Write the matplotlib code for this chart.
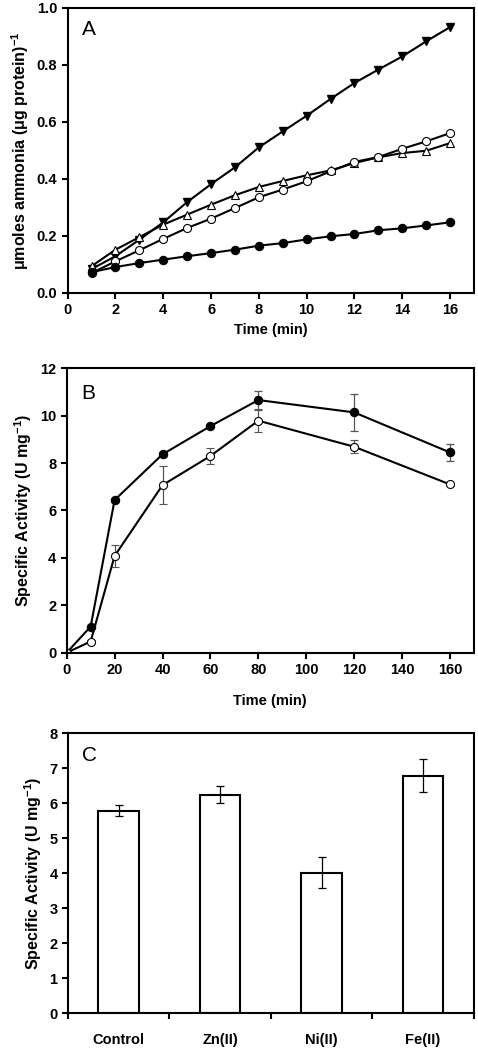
import numpy as np
import matplotlib
matplotlib.use("Agg")
import matplotlib.pyplot as plt

plt.rcParams['font.family'] = ['Liberation Sans', 'DejaVu Sans']
plt.rcParams['font.weight'] = 'bold'
plt.rcParams['mathtext.fontset'] = 'custom'
plt.rcParams['mathtext.rm'] = 'Liberation Sans:bold'
plt.rcParams['mathtext.default'] = 'rm'

# Panel A data
time_a = list(range(1, 17))
filled_tri = [0.084, 0.129, 0.187, 0.248, 0.319, 0.382, 0.441, 0.511, 0.567, 0.622,
              0.681, 0.737, 0.784, 0.830, 0.883, 0.933]
open_tri = [0.094, 0.152, 0.196, 0.240, 0.275, 0.310, 0.343, 0.372, 0.393, 0.413,
            0.430, 0.456, 0.476, 0.491, 0.499, 0.526]
open_circ = [0.070, 0.111, 0.150, 0.190, 0.228, 0.261, 0.298, 0.336, 0.363, 0.392,
             0.427, 0.460, 0.477, 0.506, 0.532, 0.561]
filled_circ = [0.073, 0.091, 0.105, 0.117, 0.129, 0.140, 0.152, 0.166, 0.175, 0.188,
               0.199, 0.207, 0.220, 0.227, 0.237, 0.248]

# Panel B data
time_b = [0, 10, 20, 40, 60, 80, 120, 160]
act_filled = [0, 1.10, 6.44, 8.37, 9.56, 10.66, 10.14, 8.45]
err_filled = [0, 0.05, 0.08, 0.10, 0.10, 0.40, 0.78, 0.35]
act_open = [0, 0.47, 4.08, 7.07, 8.30, 9.79, 8.69, 7.10]
err_open = [0, 0.05, 0.47, 0.80, 0.32, 0.48, 0.28, 0.05]

# Panel C data
metals = ['Control', 'Zn(II)', 'Ni(II)', 'Fe(II)']
act_metal = [5.79, 6.24, 4.02, 6.79]
err_metal = [0.15, 0.24, 0.45, 0.48]

fig = plt.figure(figsize=(4.78, 10.52), dpi=100)
axA = fig.add_axes([0.1416, 0.7215, 0.850, 0.2709])
axB = fig.add_axes([0.1395, 0.3796, 0.852, 0.2703])
axC = fig.add_axes([0.1423, 0.0368, 0.849, 0.2662])

lw = 1.5
ms = 5.8
tick_fs = 10.5
xlab_fs = 10.5
ylab_fs = 11.5


def style(ax):
    for s in ax.spines.values():
        s.set_linewidth(lw)
    ax.tick_params(direction='out', length=4, width=lw, labelsize=tick_fs)


# A
axA.plot(time_a, filled_tri, '-v', color='black', lw=lw, ms=ms, mfc='black', mec='black')
axA.plot(time_a, open_tri, '-^', color='black', lw=lw, ms=ms, mfc='white', mec='black', mew=0.8)
axA.plot(time_a, open_circ, '-o', color='black', lw=lw, ms=ms, mfc='white', mec='black', mew=0.8)
axA.plot(time_a, filled_circ, '-o', color='black', lw=lw, ms=ms, mfc='black', mec='black')
axA.set_xlim(0, 17)
axA.set_ylim(0, 1.0)
axA.set_xticks(range(0, 17, 2))
axA.set_yticks(np.arange(0, 1.01, 0.2))
axA.yaxis.set_major_formatter(matplotlib.ticker.FormatStrFormatter('%.1f'))
axA.set_xlabel('Time (min)', fontsize=xlab_fs, fontweight='bold')
axA.set_ylabel('\u03bcmoles ammonia (\u03bcg protein)$^{-1}$', fontsize=ylab_fs, fontweight='bold')
axA.text(0.035, 0.925, 'A', transform=axA.transAxes, fontsize=15, fontweight='normal', va='center')
style(axA)

# B
axB.errorbar(time_b, act_filled, yerr=err_filled, fmt='-o', color='black', lw=lw, ms=ms,
             mfc='black', mec='black', ecolor='#555555', elinewidth=0.9, capsize=3, capthick=0.9)
axB.errorbar(time_b, act_open, yerr=err_open, fmt='-o', color='black', lw=lw, ms=ms,
             mfc='white', mec='black', mew=0.8, ecolor='#555555', elinewidth=0.9, capsize=3, capthick=0.9)
axB.set_xlim(0, 170)
axB.set_ylim(0, 12)
axB.set_xticks(range(0, 161, 20))
axB.set_yticks(range(0, 13, 2))
axB.set_xlabel('Time (min)', fontsize=xlab_fs, fontweight='bold', labelpad=12)
axB.set_ylabel('Specific Activity (U mg$^{-1}$)', fontsize=ylab_fs, fontweight='bold')
axB.text(0.035, 0.913, 'B', transform=axB.transAxes, fontsize=15, fontweight='normal', va='center')
style(axB)

# C
pos = np.arange(len(metals)) + 0.5
axC.bar(pos, act_metal, width=0.4, color='white', edgecolor='black', lw=lw, zorder=2)
axC.errorbar(pos, act_metal, yerr=err_metal, fmt='none', ecolor='black', elinewidth=0.9,
             capsize=3, capthick=0.9, zorder=3)
axC.set_xlim(0, 4)
axC.set_ylim(0, 8)
axC.set_yticks(range(0, 9))
axC.set_xticks(range(0, 5))
axC.set_xticklabels([])
axC.set_xticks(pos, minor=True)
axC.set_xticklabels(metals, minor=True)
axC.set_ylabel('Specific Activity (U mg$^{-1}$)', fontsize=ylab_fs, fontweight='bold')
axC.text(0.035, 0.922, 'C', transform=axC.transAxes, fontsize=15, fontweight='normal', va='center')
style(axC)
axC.tick_params(axis='x', which='minor', length=0, pad=14, labelsize=tick_fs)

fig.savefig('out.png', dpi=100)
